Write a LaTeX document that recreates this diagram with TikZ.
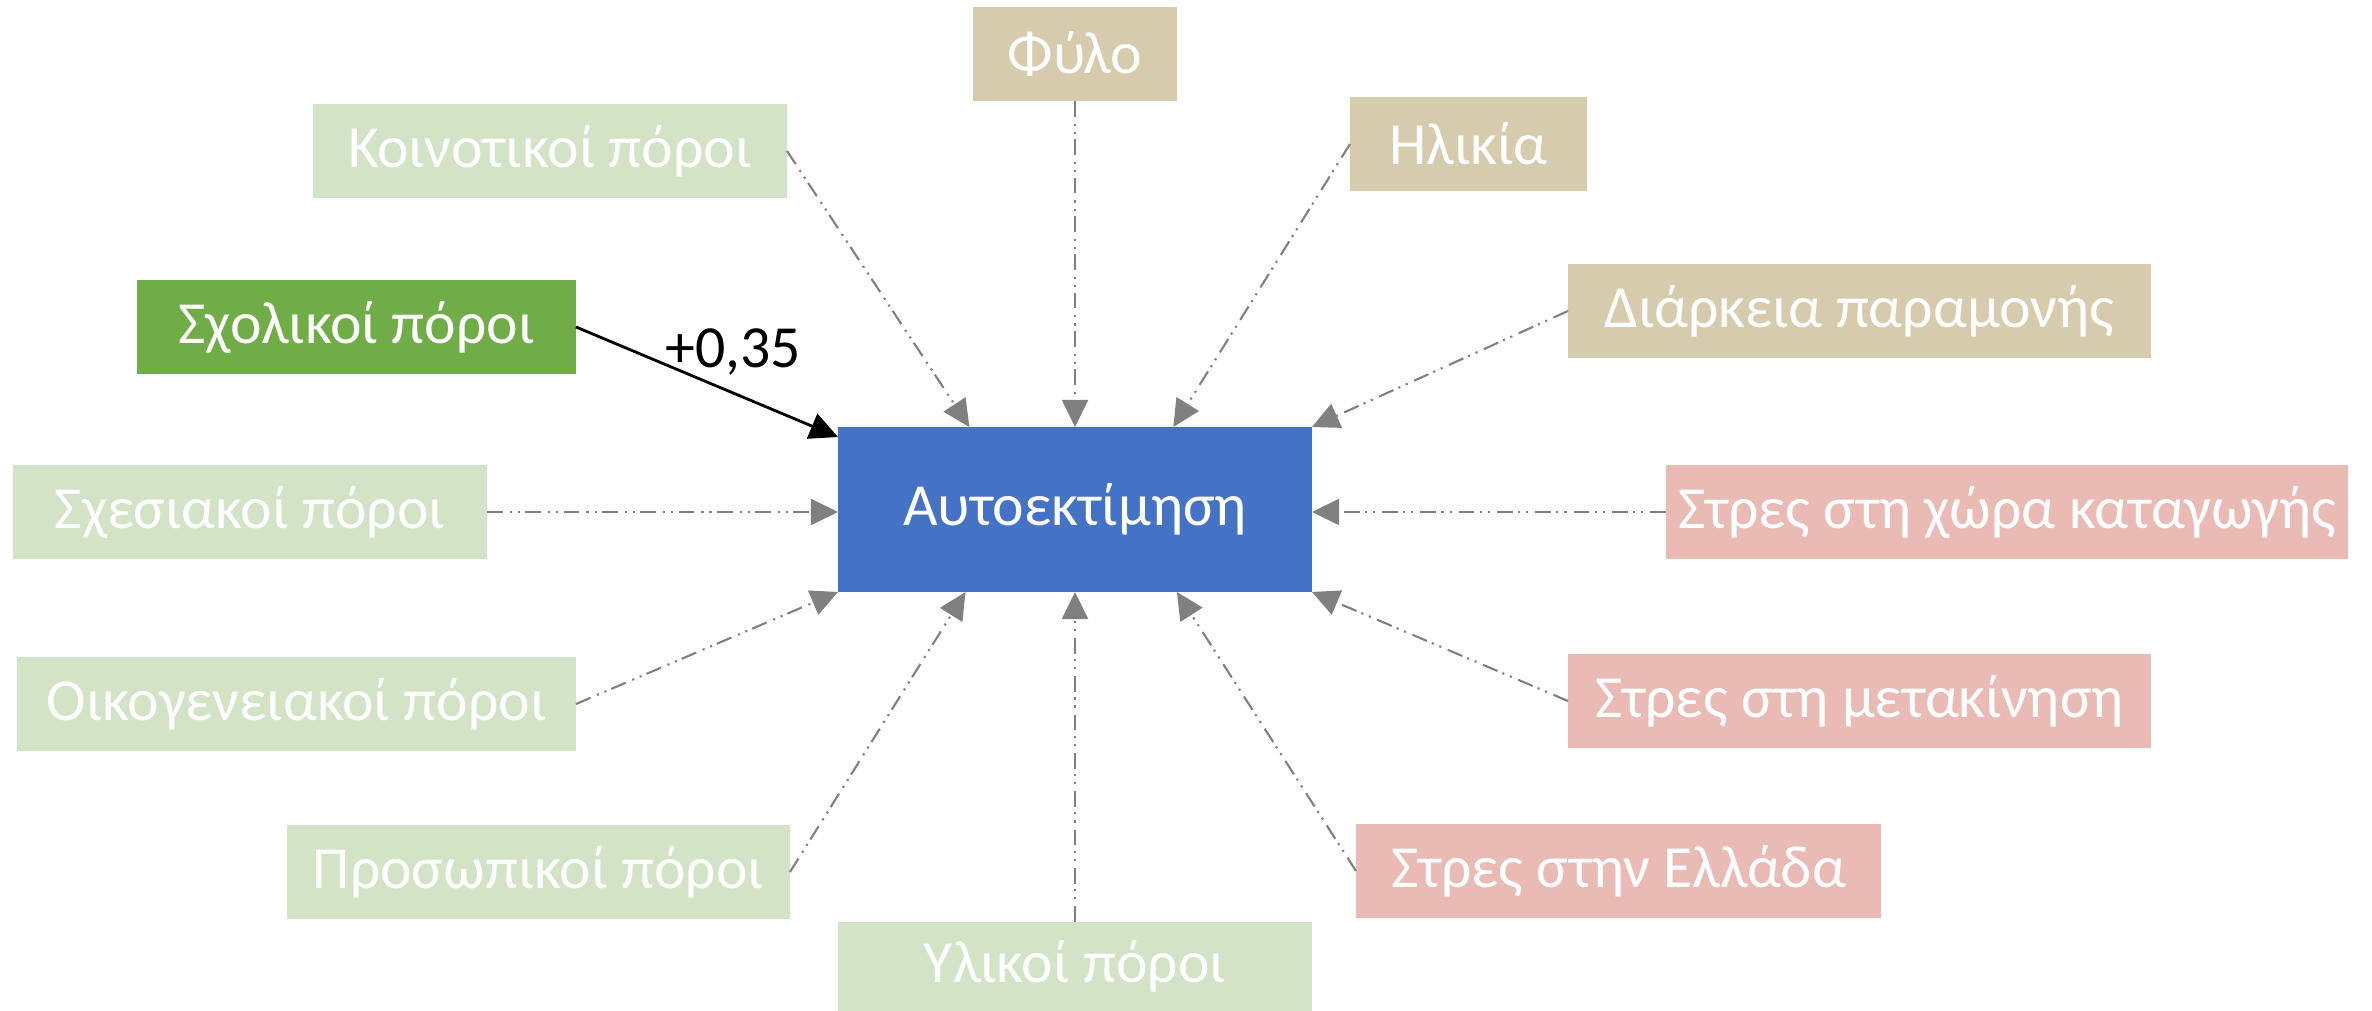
\documentclass[tikz,border=0pt]{standalone}
\usepackage{fontspec}
\setmainfont{Carlito}
\usepackage{tikz}
\usetikzlibrary{arrows.meta}

\definecolor{selfblue}{HTML}{4472C4}
\definecolor{resgreen}{HTML}{D3E3C6}
\definecolor{schoolgreen}{HTML}{70AD47}
\definecolor{demotan}{HTML}{D6CBAD}
\definecolor{stresspink}{HTML}{EABBB5}
\definecolor{linegray}{HTML}{808080}

\begin{document}
\begin{tikzpicture}[
        box/.style={rectangle, inner sep=0pt, outer sep=0pt, minimum height=0.94cm,
            text=white, font=\fontsize{17}{20}\selectfont},
        resource/.style={box, fill=resgreen},
        demo/.style={box, fill=demotan},
        stress/.style={box, fill=stresspink},
        effect/.style={draw=linegray, line width=0.6pt,
            dash pattern=on 4.5pt off 2pt on 0.6pt off 1.7pt on 0.6pt off 1.5pt,
            -{Triangle[length=7.7pt,width=7.4pt]}},
        signif/.style={draw=black, line width=0.8pt, -{Triangle[length=8pt,width=7.6pt]}}
    ]
        \useasboundingbox (0,0) rectangle (23.72,-10.11);

        % Central outcome
        \node[box, fill=selfblue, minimum width=4.74cm, minimum height=1.65cm] (self) at (10.75,-5.095) {Αυτοεκτίμηση};

        % Resources (left and bottom)
        \node[resource, minimum width=4.74cm] (community) at (5.50,-1.51) {Κοινοτικοί πόροι};
        \node[box, fill=schoolgreen, minimum width=4.39cm] (school) at (3.565,-3.27) {Σχολικοί πόροι};
        \node[resource, minimum width=4.74cm] (relation) at (2.50,-5.12) {Σχεσιακοί πόροι};
        \node[resource, minimum width=5.59cm] (family) at (2.965,-7.04) {Οικογενειακοί πόροι};
        \node[resource, minimum width=5.03cm] (personal) at (5.385,-8.72) {Προσωπικοί πόροι};
        \node[resource, minimum width=4.74cm, minimum height=0.89cm] (material) at (10.75,-9.665) {Υλικοί πόροι};

        % Demographics (top)
        \node[demo, minimum width=2.04cm] (gender) at (10.75,-0.54) {Φύλο};
        \node[demo, minimum width=2.37cm] (age) at (14.685,-1.44) {Ηλικία};
        \node[demo, minimum width=5.83cm] (stay) at (18.595,-3.11) {Διάρκεια παραμονής};

        % Stress (right)
        \node[stress, minimum width=6.82cm] (origin) at (20.07,-5.12) {Στρες στη χώρα καταγωγής};
        \node[stress, minimum width=5.83cm] (move) at (18.595,-7.01) {Στρες στη μετακίνηση};
        \node[stress, minimum width=5.25cm] (greece) at (16.185,-8.71) {Στρες στην Ελλάδα};

        % Draw the only significant path
        \draw[signif] (school.east) -- (self.163.4)
            node[pos=0.6, above, yshift=0.05cm, text=black, font=\fontsize{17}{20}\selectfont] {+0,35};

        % Draw the other paths
        \draw[effect] (community.east) -- (self.142.6);
        \draw[effect] (gender.south) -- (self.north);
        \draw[effect] (age.west) -- (self.40.7);
        \draw[effect] (stay.west) -- (self.north east);
        \draw[effect] (relation.east) -- (relation.east -| self.west);
        \draw[effect] (origin.west) -- (origin.west -| self.east);
        \draw[effect] (family.east) -- (self.south west);
        \draw[effect] (move.west) -- (self.south east);
        \draw[effect] (personal.east) -- (self.217.6);
        \draw[effect] (material.north) -- (self.south);
        \draw[effect] (greece.west) -- (self.321.6);

      \end{tikzpicture}
\end{document}
